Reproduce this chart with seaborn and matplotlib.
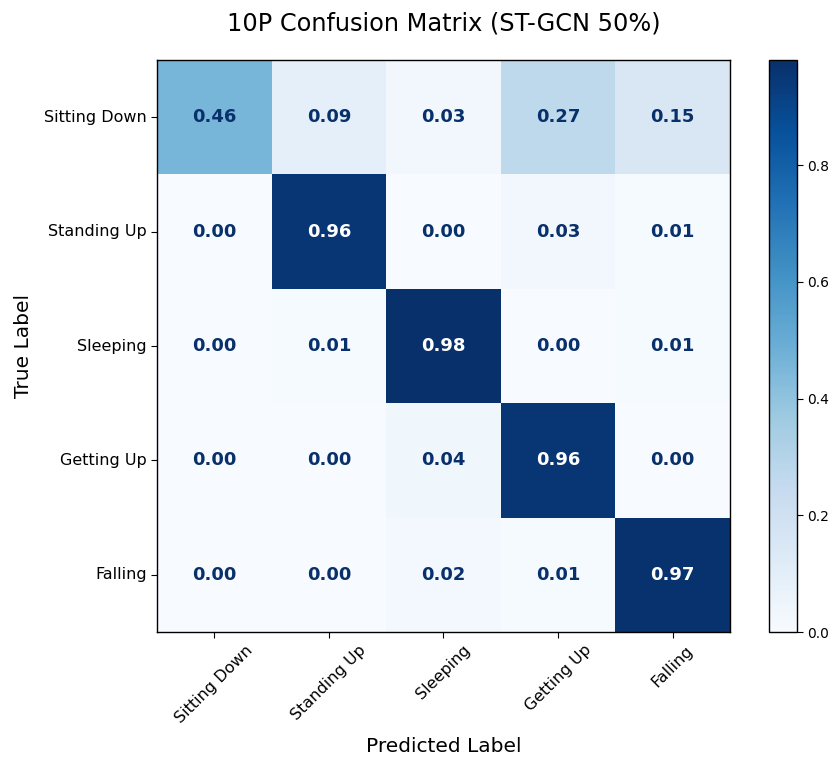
import numpy as np
import matplotlib
matplotlib.use("Agg")
import matplotlib.pyplot as plt
import seaborn as sns

# class names and normalised confusion matrix (rows = true, cols = predicted)
classes = ["Sitting Down", "Standing Up", "Sleeping", "Getting Up", "Falling"]
row_sitting = [0.46, 0.09, 0.03, 0.27, 0.15]
row_standing = [0.00, 0.96, 0.00, 0.03, 0.01]
row_sleeping = [0.00, 0.01, 0.98, 0.00, 0.01]
row_getting = [0.00, 0.00, 0.04, 0.96, 0.00]
row_falling = [0.00, 0.00, 0.02, 0.01, 0.97]


def main():
    cm = np.array([row_sitting, row_standing, row_sleeping, row_getting, row_falling])

    plt.rcParams["font.family"] = ["DejaVu Sans"]

    fig = plt.figure(figsize=(8.32, 7.6), dpi=100)
    ax = fig.add_axes([0.1887, 0.1684, 0.6887, 0.7526])
    cax = fig.add_axes([0.9243, 0.1684, 0.0337, 0.7526])

    sns.heatmap(
        cm,
        ax=ax,
        cbar_ax=cax,
        cmap="Blues",
        vmin=0.0,
        annot=True,
        fmt=".2f",
        annot_kws={"fontsize": 13, "fontweight": "bold"},
        xticklabels=classes,
        yticklabels=classes,
    )

    # sklearn-style text colours: navy on light cells, white on dark ones
    thresh = cm.max() / 2.0
    for txt, val in zip(ax.texts, cm.flatten()):
        txt.set_color("white" if val > thresh else "#08306b")

    for spine in ax.spines.values():
        spine.set_visible(True)
        spine.set_color("black")
        spine.set_linewidth(1.0)

    ax.tick_params(axis="both", which="major", length=4, width=0.8,
                   bottom=True, left=True, labelsize=11.5, color="black")
    plt.setp(ax.get_xticklabels(), rotation=45, ha="center")
    plt.setp(ax.get_yticklabels(), rotation=0)

    ax.set_xlabel("Predicted Label", fontsize=14.5, labelpad=8)
    ax.set_ylabel("True Label", fontsize=14.5, labelpad=8)
    ax.set_title("10P Confusion Matrix (ST-GCN 50%)", fontsize=17.3, pad=21)

    cax.tick_params(labelsize=10, length=4, width=0.8, right=True)
    cax.set_yticks([0.0, 0.2, 0.4, 0.6, 0.8])
    cbar = ax.collections[0].colorbar
    cbar.outline.set_visible(True)
    cbar.outline.set_edgecolor("black")
    cbar.outline.set_linewidth(1.0)

    plt.savefig("out.png", dpi=100)


if __name__ == "__main__":
    main()
